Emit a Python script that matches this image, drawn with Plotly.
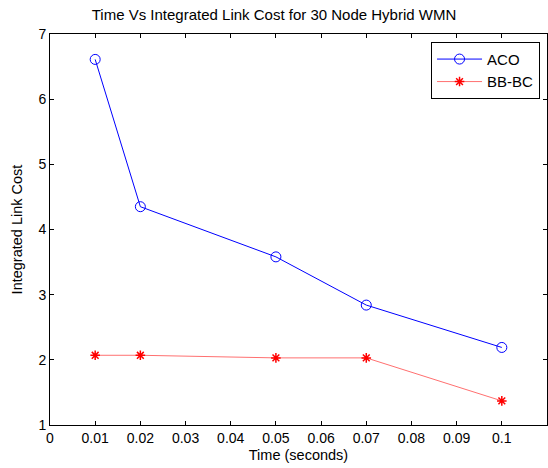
import plotly.graph_objects as go

time_s = [0.01, 0.02, 0.05, 0.07, 0.1]
aco = [6.61, 4.35, 3.58, 2.84, 2.19]
bbbc = [2.07, 2.07, 2.03, 2.03, 1.37]
x_ticks = [0, 0.01, 0.02, 0.03, 0.04, 0.05, 0.06, 0.07, 0.08, 0.09, 0.1]
x_tick_text = ["0", "0.01", "0.02", "0.03", "0.04", "0.05", "0.06", "0.07", "0.08", "0.09", "0.1"]
y_ticks = [1, 2, 3, 4, 5, 6, 7]

font = "Liberation Sans, Arial, sans-serif"

fig = go.Figure()
fig.add_trace(go.Scatter(
    x=time_s, y=aco, name="ACO", mode="lines+markers",
    line=dict(color="#0000ff", width=1),
    marker=dict(symbol="circle-open", size=10, color="#0000ff", line=dict(width=1, color="#0000ff")),
))
fig.add_trace(go.Scatter(
    x=time_s, y=bbbc, name="BB-BC", mode="lines+markers",
    line=dict(color="#ff7070", width=1),
    marker=dict(symbol="asterisk-open", size=8, color="#ff0000", line=dict(width=1.5, color="#ff0000")),
))

axis_common = dict(
    showgrid=False, zeroline=False, showline=True, linecolor="black", linewidth=1,
    mirror="ticks", ticks="inside", ticklen=4, tickcolor="black", tickwidth=1,
    tickfont=dict(family=font, size=14, color="black"),
)

fig.update_layout(
    width=548, height=468,
    margin=dict(l=50, r=1, t=34, b=43),
    paper_bgcolor="white", plot_bgcolor="white",
    title=dict(text="Time Vs Integrated Link Cost for 30 Node Hybrid WMN",
               x=0.5, xanchor="center", y=1 - 15 / 468, yanchor="middle",
               font=dict(family=font, size=15, color="black")),
    xaxis=dict(range=[0, 0.11], tickvals=x_ticks, ticktext=x_tick_text,
               title=dict(text="Time (seconds)", font=dict(family=font, size=14.5, color="black"), standoff=5),
               **axis_common),
    yaxis=dict(range=[1, 7], tickvals=y_ticks,
               title=dict(text="Integrated Link Cost", font=dict(family=font, size=14.5, color="black"), standoff=12),
               **axis_common),
    legend=dict(x=0.986, y=0.98, xanchor="right", yanchor="top",
                bgcolor="white", bordercolor="black", borderwidth=1,
                font=dict(family=font, size=15, color="black"),
                itemwidth=45, tracegroupgap=2),
    showlegend=True,
)

fig.write_html("out.html")
